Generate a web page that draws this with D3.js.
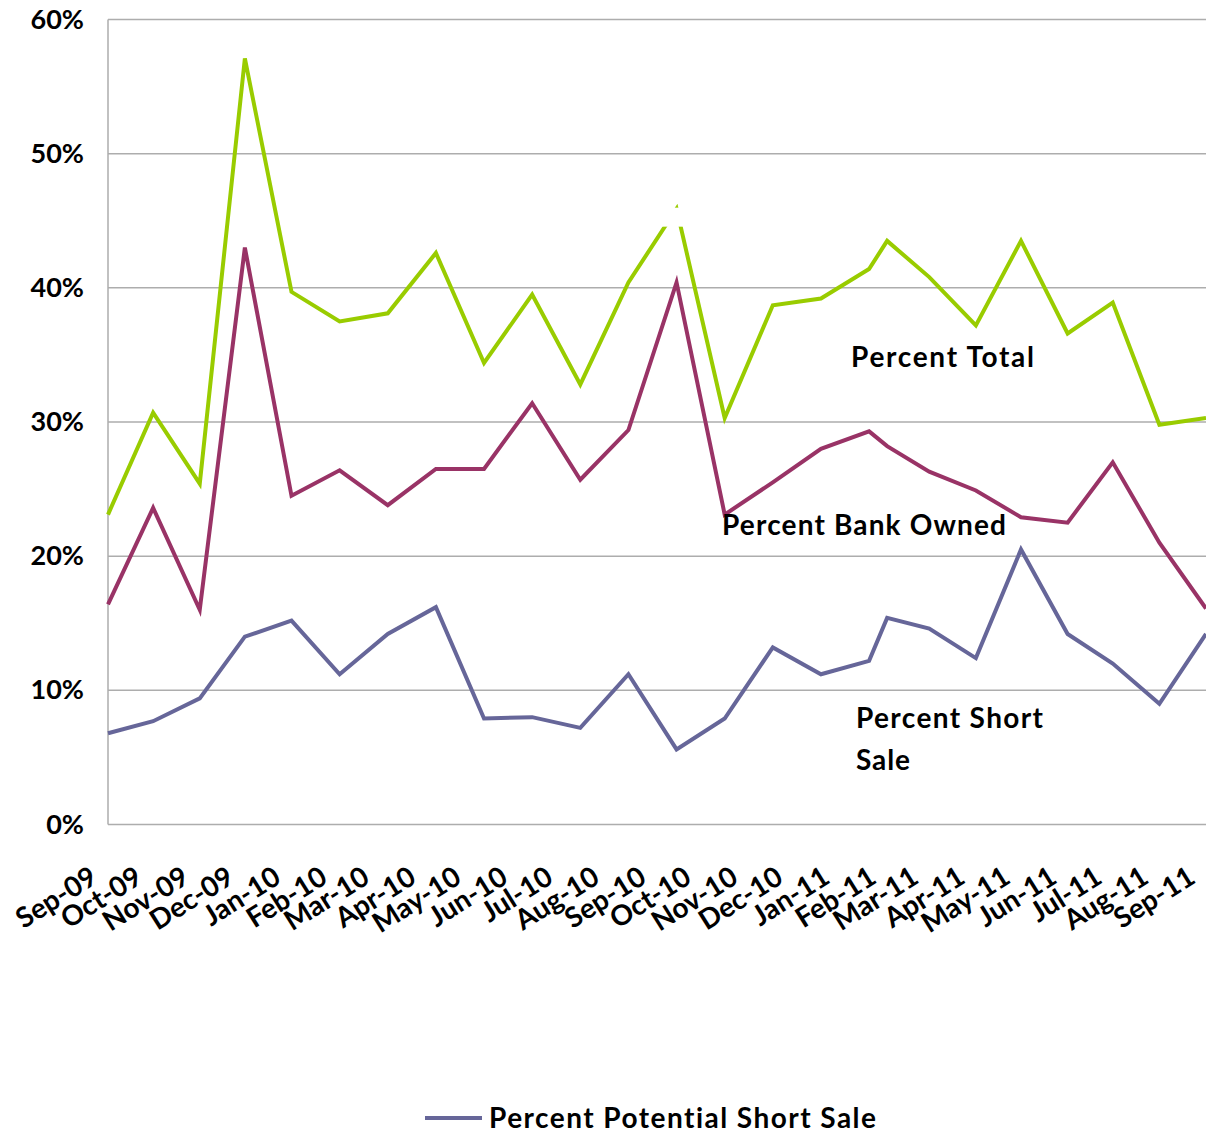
<!DOCTYPE html>
<html>
<head>
<meta charset="utf-8">
<script src="https://cdn.jsdelivr.net/npm/d3@7"></script>
<style>
body { margin: 0; background: #fff; }
text { font-family: Lato, "Open Sans", sans-serif; font-weight: bold; fill: #000; font-variant-ligatures: none; }
</style>
</head>
<body>
<script>
var W = 1206, H = 1133;

// dates of the data points (the 2010 points were entered 32 days apart)
var pointDates = ["2009-09-01","2009-10-01","2009-11-01","2009-12-01","2010-01-01",
  "2010-02-02","2010-03-06","2010-04-07","2010-05-09","2010-06-10","2010-07-12",
  "2010-08-13","2010-09-14","2010-10-16","2010-11-17","2010-12-19","2011-01-20",
  "2011-02-01","2011-03-01","2011-04-01","2011-05-01","2011-06-01","2011-07-01",
  "2011-08-01","2011-09-01"];

var total     = [23.1,30.7,25.4,57.1,39.7,37.5,38.1,42.6,34.4,39.5,32.8,40.4,45.9,
                 30.3,38.7,39.2,41.4,43.5,40.8,37.2,43.5,36.6,38.9,29.8,30.3];
var bankOwned = [16.4,23.6,16.0,43.0,24.5,26.4,23.8,26.5,26.5,31.4,25.7,29.4,40.4,
                 23.1,25.5,28.0,29.3,28.2,26.3,24.9,22.9,22.5,27.0,21.0,16.1];
var shortSale = [6.8,7.7,9.4,14.0,15.2,11.2,14.2,16.2,7.9,8.0,7.2,11.2,5.6,
                 7.9,13.2,11.2,12.2,15.4,14.6,12.4,20.5,14.2,12.0,9.0,14.2];

var yTicks = [0,10,20,30,40,50,60];
var axisStart = "2009-09-01", axisEnd = "2011-09-01";

var parse = d3.utcParse("%Y-%m-%d");
var fmt = d3.utcFormat("%b-%y");
var dates = pointDates.map(parse);

var svg = d3.select("body").append("svg")
  .attr("width", W)
  .attr("height", H);

var x = d3.scaleUtc()
  .domain([parse(axisStart), parse(axisEnd)])
  .range([108, 1206]);

var y = d3.scaleLinear()
  .domain([0, 60])
  .range([824.5, 19.5]);

// gridlines
svg.append("g").selectAll("line").data(yTicks).enter()
  .append("line")
  .attr("x1", 108).attr("x2", W)
  .attr("y1", function(d) { return y(d); })
  .attr("y2", function(d) { return y(d); })
  .attr("stroke", "#adadad")
  .attr("stroke-width", 1.5);

// left axis line
svg.append("line")
  .attr("x1", 108).attr("x2", 108)
  .attr("y1", y(60)).attr("y2", y(0))
  .attr("stroke", "#adadad")
  .attr("stroke-width", 1.5);

// y labels
var yAxis = svg.append("g")
  .attr("transform", "translate(84,0)")
  .call(d3.axisLeft(y).tickValues(yTicks).tickSize(0).tickPadding(0)
    .tickFormat(function(d) { return d + "%"; }));
yAxis.select(".domain").remove();
yAxis.selectAll("text")
  .style("font-family", "Lato, sans-serif")
  .style("font-weight", "bold")
  .style("font-size", "27px")
  .attr("fill", "#000");

// x labels, rotated
var monthTicks = x.ticks(d3.utcMonth.every(1));
svg.append("g").selectAll("text").data(monthTicks).enter()
  .append("text")
  .attr("transform", function(d) {
    return "translate(" + (x(d) - 9) + ",882) rotate(-32)";
  })
  .attr("text-anchor", "end")
  .style("font-size", "28px")
  .text(function(d) { return fmt(d); });

var line = d3.line()
  .x(function(d, i) { return x(dates[i]); })
  .y(function(d) { return y(d); });

var series = [
  { values: total, color: "#99cc00" },
  { values: bankOwned, color: "#993366" },
  { values: shortSale, color: "#666699" }
];

svg.append("g").selectAll("path").data(series).enter()
  .append("path")
  .attr("d", function(s) { return line(s.values); })
  .attr("fill", "none")
  .attr("stroke", function(s) { return s.color; })
  .attr("stroke-width", 4);

// empty label box hiding the tip of the Sep-10 total peak
svg.append("rect")
  .attr("x", x(dates[12]) - 16)
  .attr("y", y(total[12]) - 1)
  .attr("width", 32)
  .attr("height", 19)
  .attr("fill", "#fff");

// series labels
function label(txt, px, py, len) {
  svg.append("text")
    .attr("x", px).attr("y", py)
    .attr("textLength", len)
    .attr("lengthAdjust", "spacing")
    .style("font-size", "28px")
    .text(txt);
}
label("Percent Total", 851, 367, 183);
label("Percent Bank Owned", 722, 535, 284);
label("Percent Short", 856, 728, 187);
label("Sale", 856, 770, 54);

// legend
svg.append("line")
  .attr("x1", 425).attr("x2", 482)
  .attr("y1", 1118).attr("y2", 1118)
  .attr("stroke", "#666699")
  .attr("stroke-width", 4);
label("Percent Potential Short Sale", 489, 1128, 387);
</script>
</body>
</html>
